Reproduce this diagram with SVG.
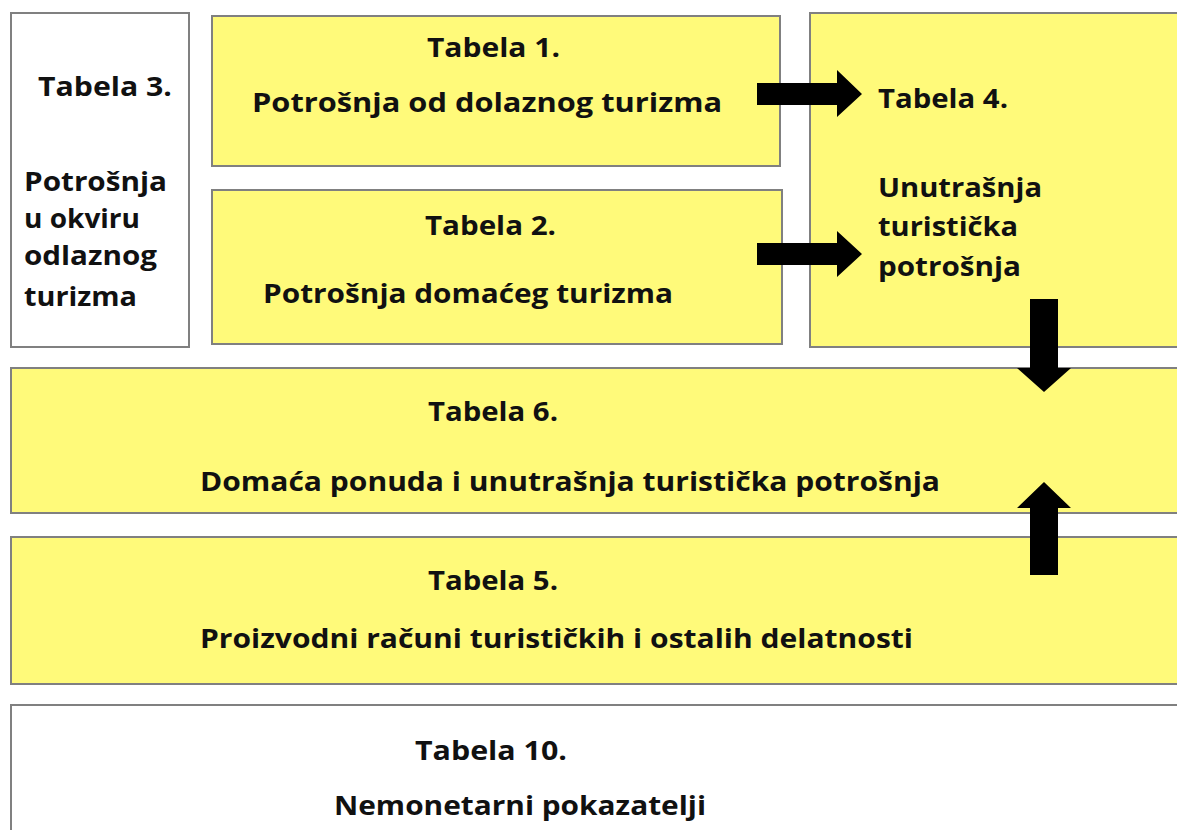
<svg xmlns="http://www.w3.org/2000/svg" width="1177" height="830" viewBox="0 0 1177 830">
<style>
.box{stroke:#808080;stroke-width:2}
.y{fill:#FFFA7A}
.w{fill:#FFFFFF}
text{font-family:"Open Sans","DejaVu Sans",sans-serif;font-weight:bold;font-size:27px;fill:#111}
.arr{fill:#000}
</style>
<rect x="0" y="0" width="1177" height="830" fill="#FFFFFF"/>
<g id="tabela3">
<rect class="box w" x="11" y="13" width="178" height="334"/>
<text x="38" y="96" textLength="134" lengthAdjust="spacingAndGlyphs">Tabela 3.</text>
<text x="24" y="191" textLength="143" lengthAdjust="spacingAndGlyphs">Potrošnja</text>
<text x="24" y="228" textLength="116" lengthAdjust="spacingAndGlyphs">u okviru</text>
<text x="24" y="265" textLength="133" lengthAdjust="spacingAndGlyphs">odlaznog</text>
<text x="24" y="306" textLength="113" lengthAdjust="spacingAndGlyphs">turizma</text>
</g>
<g id="tabela1">
<rect class="box y" x="212" y="16" width="568" height="150"/>
<text x="427" y="57" textLength="133" lengthAdjust="spacingAndGlyphs">Tabela 1.</text>
<text x="252" y="112" textLength="470" lengthAdjust="spacingAndGlyphs">Potrošnja od dolaznog turizma</text>
</g>
<g id="tabela2">
<rect class="box y" x="212" y="190" width="570" height="154"/>
<text x="425" y="235" textLength="131" lengthAdjust="spacingAndGlyphs">Tabela 2.</text>
<text x="263" y="303" textLength="410" lengthAdjust="spacingAndGlyphs">Potrošnja domaćeg turizma</text>
</g>
<g id="tabela4">
<rect class="box y" x="810" y="13" width="380" height="334"/>
<text x="878" y="108" textLength="130" lengthAdjust="spacingAndGlyphs">Tabela 4.</text>
<text x="878" y="197" textLength="164" lengthAdjust="spacingAndGlyphs">Unutrašnja</text>
<text x="878" y="236" textLength="140" lengthAdjust="spacingAndGlyphs">turistička</text>
<text x="878" y="276" textLength="143" lengthAdjust="spacingAndGlyphs">potrošnja</text>
</g>
<g id="tabela6">
<rect class="box y" x="11" y="368" width="1180" height="145"/>
<text x="428" y="421" textLength="130" lengthAdjust="spacingAndGlyphs">Tabela 6.</text>
<text x="200" y="491" textLength="740" lengthAdjust="spacingAndGlyphs">Domaća ponuda i unutrašnja turistička potrošnja</text>
</g>
<g id="tabela5">
<rect class="box y" x="11" y="537" width="1180" height="147"/>
<text x="428" y="590" textLength="130" lengthAdjust="spacingAndGlyphs">Tabela 5.</text>
<text x="200" y="648" textLength="713" lengthAdjust="spacingAndGlyphs">Proizvodni računi turističkih i ostalih delatnosti</text>
</g>
<g id="tabela10">
<rect class="box w" x="11" y="705" width="1180" height="140"/>
<text x="415" y="760" textLength="152" lengthAdjust="spacingAndGlyphs">Tabela 10.</text>
<text x="334" y="815" textLength="372" lengthAdjust="spacingAndGlyphs">Nemonetarni pokazatelji</text>
</g>
<g id="connectors">
<polygon class="arr" points="757,83 837,83 837,70 862,94 837,117 837,105 757,105"/>
<polygon class="arr" points="757,243 837,243 837,231 862,254 837,277 837,265 757,265"/>
<polygon class="arr" points="1030,299 1058,299 1058,368 1071,368 1044,392 1017,368 1030,368"/>
<polygon class="arr" points="1044,482 1071,508 1058,508 1058,575 1030,575 1030,508 1017,508"/>
</g>
</svg>
